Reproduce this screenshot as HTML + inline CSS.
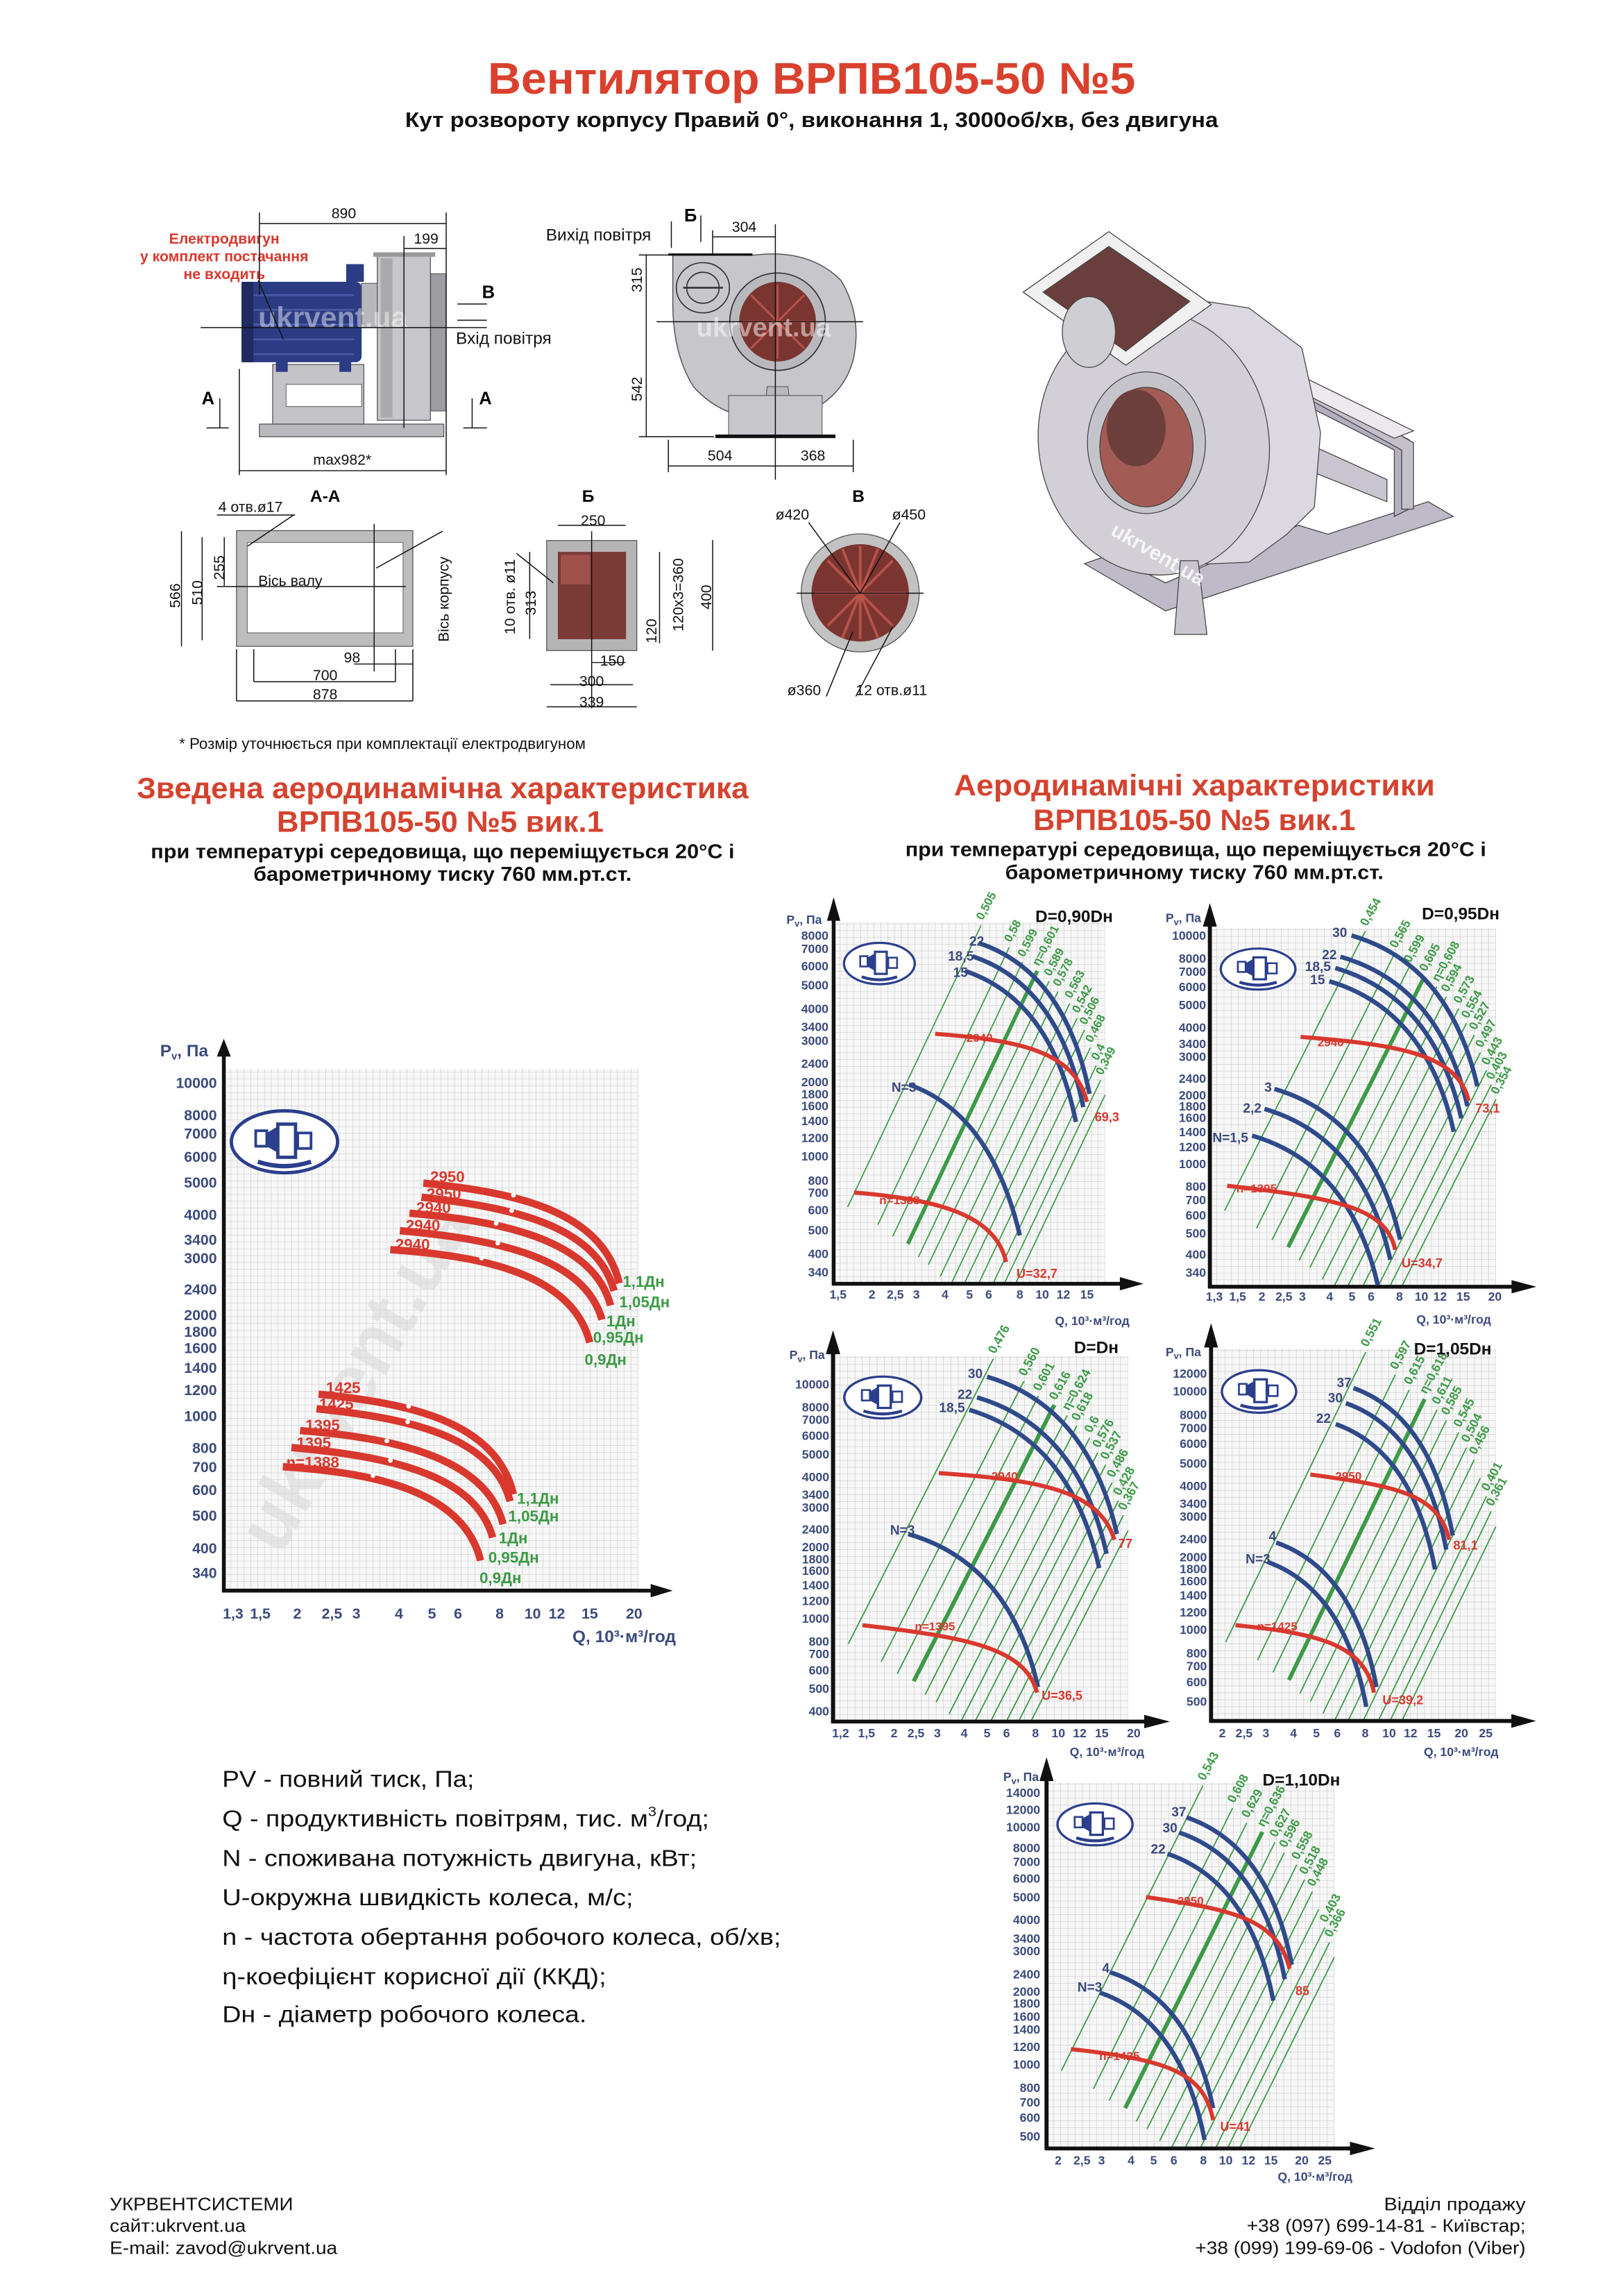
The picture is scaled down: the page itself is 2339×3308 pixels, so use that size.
<!DOCTYPE html>
<html><head><meta charset="utf-8"><style>
html,body{margin:0;padding:0;background:#fff}
svg{display:block}
text{font-family:"Liberation Sans",sans-serif}
.ax{font-size:8.3px;font-weight:bold;fill:#3b4a7d}
.axr{font-size:8.3px;font-weight:bold;fill:#3b4a7d;text-anchor:end}
.axm{font-size:8.3px;font-weight:bold;fill:#3b4a7d;text-anchor:middle}
.bl{font-size:9px;font-weight:bold;fill:#3b4a7d;text-anchor:end}
.rd{font-size:9px;font-weight:bold;fill:#d9382e}
.gr{font-size:8px;font-weight:bold;fill:#3c9a46}
.tt{font-size:11.5px;font-weight:bold;fill:#111}
.dm{font-size:10px;fill:#111}
.bc{fill:none;stroke:#2f4a8a;stroke-width:3}
.rc{fill:none;stroke:#d9382e;stroke-width:2.8}
.gl{stroke:#3c9a46;stroke-width:0.8}
.dl{stroke:#111;stroke-width:0.7;fill:none}
</style></head><body>
<svg width="2339" height="3308" viewBox="0 0 1100 1556" preserveAspectRatio="none" xmlns="http://www.w3.org/2000/svg">
<defs>
<pattern id="grid" patternUnits="userSpaceOnUse" width="4.6" height="4.6">
<rect width="4.6" height="4.6" fill="#f7f7f7"/>
<path d="M4.6 0V4.6M0 4.6H4.6" stroke="#c4c4c4" stroke-width="0.5"/>
</pattern>
<g id="logo">
<ellipse cx="0" cy="0" rx="24" ry="14" fill="#fff" stroke="#2b3f8c" stroke-width="1.5"/>
<rect x="-13" y="-5" width="5" height="7" fill="none" stroke="#2b3f8c" stroke-width="1.2"/>
<polygon points="-8,-4 -3,-7 -3,5 -8,2" fill="#2b3f8c"/>
<rect x="-3" y="-8" width="8" height="15" fill="none" stroke="#2b3f8c" stroke-width="1.5"/>
<rect x="6" y="-4" width="6" height="7" fill="none" stroke="#2b3f8c" stroke-width="1.2"/>
<path d="M-12 9 Q0 13 12 9" stroke="#2b3f8c" stroke-width="2" fill="none"/>
</g>
<g id="tpl">
<rect x="0" y="-245" width="184" height="245" fill="url(#grid)"/>
<g class="gl">
<line x1="9.5" y1="-52" x2="100" y2="-243"/>
<line x1="30" y1="-40" x2="119" y2="-228"/>
<line x1="40" y1="-32" x2="128" y2="-218"/>
<line x1="50.3" y1="-27" x2="138" y2="-212" stroke-width="2.6"/>
<line x1="57.4" y1="-18" x2="146" y2="-205"/>
<line x1="64.3" y1="-13" x2="152" y2="-198"/>
<line x1="72.3" y1="-5" x2="160" y2="-190"/>
<line x1="79.7" y1="0" x2="165" y2="-180"/>
<line x1="88.5" y1="0" x2="170" y2="-172"/>
<line x1="98.2" y1="0" x2="174" y2="-160"/>
<line x1="108" y1="0" x2="178" y2="-148"/>
<line x1="115.6" y1="0" x2="181" y2="-138"/>
<line x1="123.3" y1="0" x2="184" y2="-128"/>
</g>
<use href="#logo" transform="translate(31,-217)"/>
<line x1="0" y1="1" x2="0" y2="-250" stroke="#111" stroke-width="2.6"/>
<polygon points="-4.5,-246 4.5,-246 0,-262" fill="#111"/>
<line x1="-1" y1="0" x2="196" y2="0" stroke="#111" stroke-width="2.6"/>
<polygon points="194,-4.5 194,4.5 210,0" fill="#111"/>
</g>
</defs>

<!-- TITLE -->
<text x="330.6" y="63.5" font-size="30" font-weight="bold" fill="#d9412e" textLength="439" lengthAdjust="spacingAndGlyphs">Вентилятор ВРПВ105-50 №5</text>
<text x="274.6" y="86" font-size="14.5" font-weight="bold" fill="#111" textLength="551" lengthAdjust="spacingAndGlyphs">Кут розвороту корпусу Правий 0°, виконання 1, 3000об/хв, без двигуна</text>

<!-- SIDE VIEW -->
<g>
<rect x="175.8" y="287.4" width="125" height="8.6" fill="#b9b9bd" stroke="#555" stroke-width="0.6"/>
<rect x="184.8" y="247" width="61.8" height="40.4" fill="#c4c4c8" stroke="#555" stroke-width="0.6"/>
<rect x="193.9" y="260.5" width="51.2" height="15" fill="#fff" stroke="#666" stroke-width="0.5"/>
<rect x="163.7" y="191" width="81.4" height="54.5" rx="4" fill="#2c3c84"/>
<g stroke="#4a5aa8" stroke-width="1.2"><line x1="168" y1="200" x2="240" y2="200"/><line x1="168" y1="210" x2="240" y2="210"/><line x1="168" y1="220" x2="240" y2="220"/><line x1="168" y1="230" x2="240" y2="230"/><line x1="168" y1="240" x2="240" y2="240"/></g>
<rect x="163.7" y="191" width="8" height="54.5" fill="#1e2a60"/>
<rect x="234.6" y="179" width="12" height="12" fill="#2c3c84"/>
<rect x="187" y="244" width="8" height="8" fill="#2c3c84"/><rect x="230" y="244" width="8" height="8" fill="#2c3c84"/>
<rect x="245" y="192" width="12" height="30" fill="#b8b8bc" stroke="#555" stroke-width="0.5"/>
<rect x="255.7" y="172.8" width="36" height="112" fill="#c7c7cb" stroke="#555" stroke-width="0.6"/>
<rect x="258" y="175" width="8" height="108" fill="#aaa"/>
<rect x="291.9" y="185.5" width="10.5" height="93" fill="#9c9ca2" stroke="#555" stroke-width="0.5"/>
<rect x="253" y="171" width="42" height="3" fill="#999"/>
<text x="175" y="222" font-size="20" font-weight="bold" fill="#ffffff" fill-opacity="0.45">ukrvent.ua</text>
<text x="152" y="165" font-size="10" font-weight="bold" fill="#d9382e" text-anchor="middle">Електродвигун</text>
<text x="152" y="177" font-size="10" font-weight="bold" fill="#d9382e" text-anchor="middle">у комплект постачання</text>
<text x="152" y="189" font-size="10" font-weight="bold" fill="#d9382e" text-anchor="middle">не входить</text>
<line class="dl" x1="175" y1="190" x2="192" y2="230"/>
<line class="dl" x1="175.8" y1="151.5" x2="302.4" y2="151.5"/><line class="dl" x1="175.8" y1="144" x2="175.8" y2="200"/><line class="dl" x1="302.4" y1="144" x2="302.4" y2="322"/>
<text x="233" y="148" class="dm" text-anchor="middle">890</text>
<line class="dl" x1="273.8" y1="168.4" x2="302.4" y2="168.4"/><line class="dl" x1="273.8" y1="160" x2="273.8" y2="290"/>
<text x="288.8" y="165" class="dm" text-anchor="middle">199</text>
<line class="dl" x1="162.2" y1="319" x2="302.4" y2="319"/><line class="dl" x1="162.2" y1="250" x2="162.2" y2="322"/>
<text x="232" y="315" class="dm" text-anchor="middle">max982*</text>
<line class="dl" x1="136" y1="222" x2="330" y2="222"/>
<text x="141" y="274" font-size="12" font-weight="bold" text-anchor="middle">А</text>
<line class="dl" x1="149" y1="270" x2="149" y2="290"/><line class="dl" x1="140" y1="290" x2="155" y2="290"/>
<text x="329" y="274" font-size="12" font-weight="bold" text-anchor="middle">А</text>
<line class="dl" x1="320" y1="270" x2="320" y2="290"/><line class="dl" x1="314" y1="290" x2="330" y2="290"/>
<text x="331" y="202" font-size="12" font-weight="bold" text-anchor="middle">В</text>
<line class="dl" x1="310" y1="206" x2="330" y2="206"/>
<line class="dl" x1="310" y1="217" x2="330" y2="217"/>
<text x="309" y="233" font-size="11.5" fill="#111">Вхід повітря</text>
</g>

<!-- FRONT VIEW -->
<g>
<path d="M456 173 L510 173 Q548 168 570 190 Q585 215 578 245 Q568 278 527 285 Q490 285 470 262 Q456 240 456 205 Z" fill="#c7c7cb" stroke="#555" stroke-width="0.7"/>
<line x1="453" y1="172.5" x2="510" y2="172.5" stroke="#111" stroke-width="1.5"/>
<ellipse cx="476.4" cy="195" rx="18" ry="17" fill="#c7c7cb" stroke="#333" stroke-width="0.8"/>
<ellipse cx="476.4" cy="195" rx="11" ry="10.5" fill="none" stroke="#333" stroke-width="0.8"/>
<line x1="463" y1="195" x2="490" y2="195" stroke="#333" stroke-width="1.2"/>
<ellipse cx="527" cy="218" rx="32.4" ry="33" fill="#b9b9bd" stroke="#333" stroke-width="0.8"/>
<ellipse cx="527" cy="218" rx="26" ry="27" fill="#7a3530"/>
<g stroke="#b8524a" stroke-width="1.4">
<line x1="527" y1="218" x2="527" y2="193"/><line x1="527" y1="218" x2="545" y2="200"/><line x1="527" y1="218" x2="551" y2="218"/><line x1="527" y1="218" x2="545" y2="236"/><line x1="527" y1="218" x2="527" y2="243"/><line x1="527" y1="218" x2="509" y2="236"/><line x1="527" y1="218" x2="503" y2="218"/><line x1="527" y1="218" x2="509" y2="200"/>
</g>
<polygon points="520,262 534,262 538,296 516,296" fill="#b9b9bd" stroke="#555" stroke-width="0.5"/>
<rect x="493.8" y="268" width="63.4" height="27" fill="#c7c7cb" stroke="#555" stroke-width="0.5"/>
<rect x="484.8" y="294.5" width="81.4" height="2.4" fill="#111"/>
<line class="dl" x1="525.5" y1="152" x2="525.5" y2="325"/>
<line class="dl" x1="445" y1="218" x2="585" y2="218"/>
<line class="dl" x1="483" y1="160.5" x2="525.5" y2="160.5"/><line class="dl" x1="483" y1="156" x2="483" y2="172"/>
<text x="504.4" y="157" class="dm" text-anchor="middle">304</text>
<line class="dl" x1="438" y1="172.8" x2="438" y2="296"/><line class="dl" x1="433" y1="172.8" x2="456" y2="172.8"/><line class="dl" x1="433" y1="296" x2="484" y2="296"/>
<text transform="translate(435,198) rotate(-90)" class="dm">315</text>
<text transform="translate(435,272) rotate(-90)" class="dm">542</text>
<line class="dl" x1="453" y1="315.8" x2="578.3" y2="315.8"/><line class="dl" x1="453" y1="298" x2="453" y2="320"/><line class="dl" x1="578.3" y1="298" x2="578.3" y2="320"/>
<text x="488" y="312" class="dm" text-anchor="middle">504</text>
<text x="551" y="312" class="dm" text-anchor="middle">368</text>
<text x="370" y="163" font-size="11.5" fill="#111">Вихід повітря</text>
<line class="dl" x1="455" y1="150" x2="455" y2="168"/>
<text x="468" y="150" font-size="12" font-weight="bold" text-anchor="middle">Б</text>
<line class="dl" x1="475" y1="146" x2="475" y2="164"/>
<text x="472" y="228" font-size="18" font-weight="bold" fill="#fff" fill-opacity="0.5">ukrvent.ua</text>
</g>

<!-- 3D VIEW -->
<g stroke="#444" stroke-width="0.6">
<polygon points="735,382 790,414 985,350 968,340 900,362 880,356 790,395 752,376" fill="#bfbac8"/>
<polygon points="872,255 955,298 955,345 945,350 945,305 872,268" fill="#b4afbe"/>
<polygon points="890,262 958,300 958,345 950,345 950,305 890,272" fill="#c4c0ca"/>
<polygon points="868,248 958,292 945,297 860,255" fill="#ebe9ee"/>
<polygon points="885,300 940,325 940,340 885,318" fill="#c9c5d0"/>
<polygon points="766,229 812.7,203.6 846.5,208.7 882.3,235.7 895,293 890.8,343.8 871.8,362.4 846.5,381 808.5,382.6" fill="#dcd8e2"/>
<ellipse cx="782" cy="300" rx="78" ry="90" transform="rotate(-10 782 300)" fill="#d2d0d6"/>
<polygon points="693.5,198 751.5,157 821,206.4 763,247.5" fill="#f0f0f0"/>
<polygon points="707,198 751.5,167 806.4,204.3 763,238" fill="#6a3e3c"/>
<ellipse cx="738" cy="225" rx="18" ry="24" fill="#cfcfd3"/>
<ellipse cx="777" cy="300" rx="40" ry="48" fill="#c6c4cb"/>
<ellipse cx="777" cy="303" rx="31.6" ry="40.5" fill="#a35c55"/>
<ellipse cx="770" cy="290" rx="20" ry="26" fill="#6c3f3d" stroke="none"/>
<polygon points="800,380 812,380 818,430 796,430" fill="#c9c6cf"/>
</g>
<text transform="translate(752,362) rotate(30)" font-size="14" font-weight="bold" fill="#fff" fill-opacity="0.8">ukrvent.ua</text>

<!-- SECTIONS -->
<g>
<rect x="160.3" y="359.6" width="119.5" height="78.4" fill="#bdbdbd" stroke="#555" stroke-width="0.6"/>
<rect x="167.6" y="367.6" width="105.6" height="61.3" fill="#fff" stroke="#777" stroke-width="0.6"/>
<line class="dl" x1="147" y1="397.5" x2="275" y2="397.5"/>
<line class="dl" x1="253.6" y1="355" x2="253.6" y2="455"/>
<line class="dl" x1="255" y1="385" x2="300" y2="360"/>
<text x="220.4" y="340" font-size="11.5" font-weight="bold" text-anchor="middle">А-А</text>
<text x="148" y="347" class="dm">4 отв.ø17</text><line class="dl" x1="147" y1="349" x2="200" y2="349"/><line class="dl" x1="199" y1="349" x2="168" y2="370"/>
<line class="dl" x1="123" y1="360" x2="123" y2="438"/><text transform="translate(122,412) rotate(-90)" class="dm">566</text>
<line class="dl" x1="137" y1="364" x2="137" y2="434"/><text transform="translate(137,410) rotate(-90)" class="dm">510</text>
<line class="dl" x1="152" y1="364" x2="152" y2="397"/><text transform="translate(152,393) rotate(-90)" class="dm">255</text>
<text x="175" y="397" class="dm">Вісь валу</text>
<text transform="translate(304,435) rotate(-90)" class="dm">Вісь корпусу</text>
<line class="dl" x1="160.3" y1="440" x2="160.3" y2="475"/><line class="dl" x1="279.8" y1="440" x2="279.8" y2="475"/><line class="dl" x1="172" y1="440" x2="172" y2="462"/><line class="dl" x1="268" y1="440" x2="268" y2="462"/>
<line class="dl" x1="240" y1="450" x2="280" y2="450"/><text x="238.6" y="449" class="dm" text-anchor="middle">98</text>
<line class="dl" x1="172" y1="462" x2="268" y2="462"/><text x="220.4" y="461" class="dm" text-anchor="middle">700</text>
<line class="dl" x1="160.3" y1="475" x2="279.8" y2="475"/><text x="220.4" y="474" class="dm" text-anchor="middle">878</text>

<rect x="370.5" y="366.3" width="61.1" height="74.6" fill="#b5b5b5" stroke="#555" stroke-width="0.6"/>
<rect x="378.1" y="374" width="46.2" height="59.2" fill="#7a3a36"/>
<rect x="380" y="376" width="20" height="20" fill="#a0504a"/>
<line class="dl" x1="401" y1="360" x2="401" y2="480"/>
<text x="398.6" y="340" font-size="11.5" font-weight="bold" text-anchor="middle">Б</text>
<line class="dl" x1="378" y1="356" x2="424" y2="356"/><text x="402" y="356" class="dm" text-anchor="middle">250</text>
<text transform="translate(349,430) rotate(-90)" class="dm">10 отв. ø11</text>
<line class="dl" x1="350" y1="375" x2="375" y2="395"/>
<line class="dl" x1="359" y1="374" x2="359" y2="433"/><text transform="translate(363,417) rotate(-90)" class="dm">313</text>
<line class="dl" x1="447" y1="374" x2="447" y2="436"/><text transform="translate(463,428) rotate(-90)" class="dm">120х3=360</text>
<line class="dl" x1="483" y1="366" x2="483" y2="441"/><text transform="translate(482,413) rotate(-90)" class="dm">400</text>
<text transform="translate(445,436) rotate(-90)" class="dm">120</text>
<line class="dl" x1="401" y1="449" x2="424" y2="449"/><text x="415" y="451" class="dm" text-anchor="middle">150</text>
<line class="dl" x1="373" y1="464" x2="429" y2="464"/><text x="401" y="465" class="dm" text-anchor="middle">300</text>
<line class="dl" x1="370.5" y1="479" x2="431.6" y2="479"/><text x="401" y="479" class="dm" text-anchor="middle">339</text>

<circle cx="583" cy="401.8" r="40" fill="#c2c2c2" stroke="#555" stroke-width="0.6"/>
<circle cx="583" cy="401.8" r="33" fill="#7a3530"/>
<g stroke="#b8524a" stroke-width="1.8"><line x1="583" y1="370" x2="583" y2="433"/><line x1="552" y1="402" x2="614" y2="402"/><line x1="561" y1="380" x2="605" y2="424"/><line x1="605" y1="380" x2="561" y2="424"/><line x1="571" y1="372" x2="595" y2="432"/><line x1="595" y1="372" x2="571" y2="432"/></g>
<line class="dl" x1="540" y1="402" x2="626" y2="402"/>
<text x="581.8" y="340" font-size="11.5" font-weight="bold" text-anchor="middle">В</text>
<text x="537" y="352" class="dm" text-anchor="middle">ø420</text><line class="dl" x1="548" y1="354" x2="583" y2="402"/>
<text x="616" y="352" class="dm" text-anchor="middle">ø450</text><line class="dl" x1="610" y1="354" x2="583" y2="402"/>
<text x="545" y="471" class="dm" text-anchor="middle">ø360</text><line class="dl" x1="560" y1="472" x2="578" y2="428"/>
<text x="580" y="471" class="dm">12 отв.ø11</text><line class="dl" x1="580" y1="472" x2="605" y2="425"/>
<text x="121.4" y="507.5" font-size="10.5" fill="#111">* Розмір уточнюється при комплектації електродвигуном</text>
</g>

<!-- HEADINGS -->
<text x="92.7" y="540.9" font-size="20" font-weight="bold" fill="#d4432f" textLength="414.6" lengthAdjust="spacingAndGlyphs">Зведена аеродинамічна характеристика</text>
<text x="187.6" y="563.7" font-size="20" font-weight="bold" fill="#d4432f" textLength="221.6" lengthAdjust="spacingAndGlyphs">ВРПВ105-50 №5 вик.1</text>
<text x="102.2" y="581.7" font-size="13.5" font-weight="bold" fill="#111" textLength="395.6" lengthAdjust="spacingAndGlyphs">при температурі середовища, що переміщується 20°С і</text>
<text x="171.8" y="597" font-size="13.5" font-weight="bold" fill="#111" textLength="256.3" lengthAdjust="spacingAndGlyphs">барометричному тиску 760 мм.рт.ст.</text>
<text x="646.5" y="539" font-size="20" font-weight="bold" fill="#d4432f" textLength="326" lengthAdjust="spacingAndGlyphs">Аеродинамічні характеристики</text>
<text x="700.3" y="562.6" font-size="20" font-weight="bold" fill="#d4432f" textLength="218.4" lengthAdjust="spacingAndGlyphs">ВРПВ105-50 №5 вик.1</text>
<text x="613.6" y="580.1" font-size="13.5" font-weight="bold" fill="#111" textLength="393.7" lengthAdjust="spacingAndGlyphs">при температурі середовища, що переміщується 20°С і</text>
<text x="681.3" y="595.8" font-size="13.5" font-weight="bold" fill="#111" textLength="256.4" lengthAdjust="spacingAndGlyphs">барометричному тиску 760 мм.рт.ст.</text>

<!-- LEFT CHART -->
<g>
<rect x="152" y="724.5" width="280.6" height="353.5" fill="url(#grid)"/>
<g transform="translate(192.8,773.8) scale(1.5)"><use href="#logo"/></g>
<text transform="translate(190,1055) rotate(-60)" font-size="52" font-weight="bold" fill="#d8d8d8" fill-opacity="0.6">ukrvent.ua</text>
<line x1="151.7" y1="1079" x2="151.7" y2="715" stroke="#111" stroke-width="2.6"/>
<polygon points="147,716 156.4,716 151.7,704" fill="#111"/>
<line x1="150.5" y1="1078" x2="442" y2="1078" stroke="#111" stroke-width="2.6"/>
<polygon points="441,1073.5 441,1082.5 456,1078" fill="#111"/>
<g fill="none" stroke="#d9382e" stroke-width="5">
<path d="M286.9,801.8 C348,808 408,820 419.7,869.7"/>
<path d="M285.7,811.3 C346.8,818.4 404,830 416.2,874.8"/>
<path d="M277.5,822.2 C336,827 402,839 413.8,884.7"/>
<path d="M271,834 C337,840 396,852 408,894.3"/>
<path d="M264.5,846.9 C326,851 388,863 399.7,909.8"/>
<path d="M215.9,944.8 C277,951 336,963 348,1012.7"/>
<path d="M214.5,954.7 C276,961 334,973 345.7,1017.4"/>
<path d="M203.4,969.5 C262,974 329,986 341,1033"/>
<path d="M197.5,981 C264,987 322,999 333.9,1042"/>
<path d="M191.7,994 C253,998 314,1010 325.7,1057.6"/>
</g>
<g fill="#fff"><circle cx="348" cy="810" r="1.6"/><circle cx="346.8" cy="820.4" r="1.6"/><circle cx="336.3" cy="829" r="1.6"/><circle cx="337.4" cy="842.4" r="1.6"/><circle cx="326.4" cy="852.6" r="1.6"/><circle cx="277" cy="953" r="1.6"/><circle cx="276.3" cy="963.5" r="1.6"/><circle cx="262.2" cy="976.5" r="1.6"/><circle cx="264.6" cy="989.7" r="1.6"/><circle cx="252.8" cy="1000" r="1.6"/></g>
<g font-size="10.5" font-weight="bold" fill="#d9382e">
<text x="291.6" y="801">2950</text><text x="289.2" y="812.5">2950</text><text x="282.2" y="822">2940</text><text x="275" y="834">2940</text><text x="268" y="847">2940</text>
<text x="221" y="944">1425</text><text x="216.3" y="955">1425</text><text x="207" y="969.5">1395</text><text x="201" y="981.5">1395</text><text x="194" y="994.5">n=1388</text>
</g>
<g font-size="10.5" font-weight="bold" fill="#3c9a46">
<text x="422" y="872">1,1Дн</text><text x="419.7" y="886">1,05Дн</text><text x="411" y="899">1Дн</text><text x="402" y="910">0,95Дн</text><text x="396.2" y="925">0,9Дн</text>
<text x="350.4" y="1019">1,1Дн</text><text x="344.5" y="1031">1,05Дн</text><text x="338" y="1046">1Дн</text><text x="331" y="1059">0,95Дн</text><text x="325" y="1073">0,9Дн</text>
</g>
<g font-size="10" font-weight="bold" fill="#3b4a7d" text-anchor="end">
<text x="147" y="737.3">10000</text><text x="147" y="759.3">8000</text><text x="147" y="771.7">7000</text><text x="147" y="787.3">6000</text><text x="147" y="804.7">5000</text><text x="147" y="826.7">4000</text><text x="147" y="843.6">3400</text><text x="147" y="856">3000</text><text x="147" y="877.3">2400</text><text x="147" y="894.7">2000</text><text x="147" y="906">1800</text><text x="147" y="916.9">1600</text><text x="147" y="930.4">1400</text><text x="147" y="945.4">1200</text><text x="147" y="963">1000</text><text x="147" y="984.7">800</text><text x="147" y="997.7">700</text><text x="147" y="1013.3">600</text><text x="147" y="1030.7">500</text><text x="147" y="1052.7">400</text><text x="147" y="1069.3">340</text>
</g>
<g font-size="10" font-weight="bold" fill="#3b4a7d" text-anchor="middle">
<text x="158" y="1097">1,3</text><text x="176.4" y="1097">1,5</text><text x="201.5" y="1097">2</text><text x="225" y="1097">2,5</text><text x="241.5" y="1097">3</text><text x="270.4" y="1097">4</text><text x="292.8" y="1097">5</text><text x="310.4" y="1097">6</text><text x="338.6" y="1097">8</text><text x="361" y="1097">10</text><text x="377.4" y="1097">12</text><text x="399.7" y="1097">15</text><text x="429.8" y="1097">20</text>
</g>
<text x="388" y="1113" font-size="11.5" font-weight="bold" fill="#3b4a7d">Q, 10³·м³/год</text>
<text x="108.5" y="716" font-size="11.5" font-weight="bold" fill="#3b4a7d">P<tspan font-size="7" dy="2">v</tspan><tspan dy="-2">, Па</tspan></text>
</g>

<!-- CHART 1 -->
<g transform="translate(565,870)"><use href="#tpl"/>
<g class="gr"><text transform="translate(101,-246) rotate(-62)">0,505</text><text transform="translate(120,-231) rotate(-62)">0,58</text><text transform="translate(129,-221) rotate(-62)">0,599</text><text transform="translate(139,-215) rotate(-62)">η=0,601</text><text transform="translate(147,-208) rotate(-62)">0,589</text><text transform="translate(153,-201) rotate(-62)">0,578</text><text transform="translate(161,-193) rotate(-62)">0,563</text><text transform="translate(166,-183) rotate(-62)">0,542</text><text transform="translate(171,-175) rotate(-62)">0,506</text><text transform="translate(175,-163) rotate(-62)">0,468</text><text transform="translate(179,-151) rotate(-62)">0,4</text><text transform="translate(182,-141) rotate(-62)">0,349</text></g>
</g>
<path class="bc" d="M663.3,639.1 Q722,658.6 738.4,741.3"/><path class="bc" d="M659.1,648.1 Q717.5,667.5 734.2,750.3"/><path class="bc" d="M654,658 Q712.5,677.5 729.2,760.3"/><path class="bc" d="M616,735 Q671.4,754.3 691.2,837.2"/>
<path class="rc" d="M633.8,700.6 C690,705 728,712 736.7,746.7"/><path class="rc" d="M578.9,808.2 C640,813 675,825 681.9,855.3"/>
<g class="axr"><text x="561.5" y="636.8">8000</text><text x="561.5" y="645.9">7000</text><text x="561.5" y="657.5">6000</text><text x="561.5" y="670.5">5000</text><text x="561.5" y="686.4">4000</text><text x="561.5" y="698.7">3400</text><text x="561.5" y="708.1">3000</text><text x="561.5" y="723.7">2400</text><text x="561.5" y="736.2">2000</text><text x="561.5" y="744.3">1800</text><text x="561.5" y="752.4">1600</text><text x="561.5" y="762.4">1400</text><text x="561.5" y="774.1">1200</text><text x="561.5" y="786.4">1000</text><text x="561.5" y="803">800</text><text x="561.5" y="811.2">700</text><text x="561.5" y="823">600</text><text x="561.5" y="836.5">500</text><text x="561.5" y="852.5">400</text><text x="561.5" y="865">340</text></g>
<g class="axm"><text x="568" y="880">1,5</text><text x="591" y="880">2</text><text x="606.8" y="880">2,5</text><text x="621.1" y="880">3</text><text x="640.5" y="880">4</text><text x="657.1" y="880">5</text><text x="670.1" y="880">6</text><text x="691.2" y="880">8</text><text x="706.4" y="880">10</text><text x="720.7" y="880">12</text><text x="736.7" y="880">15</text></g>
<text x="715" y="898" class="ax">Q, 10³·м³/год</text>
<text x="533" y="626" class="ax">P<tspan font-size="6" dy="2">v</tspan><tspan dy="-2">, Па</tspan></text>
<text x="728" y="625" class="tt" text-anchor="middle">D=0,90Dн</text>
<g class="bl"><text x="667" y="641">22</text><text x="660" y="651">18,5</text><text x="656" y="662">15</text><text x="621" y="740">N=3</text></g>
<g class="rd"><text x="655" y="706" font-size="8">2940</text><text x="596" y="816" font-size="8">n=1388</text><text x="689" y="866" font-size="8.5">U=32,7</text><text x="742" y="760" font-size="8.5">69,3</text></g>

<!-- CHART 2 -->
<g transform="translate(820,872) scale(1.054,0.992)"><use href="#tpl"/>
<g class="gr"><text transform="translate(101,-246) rotate(-62)">0,454</text><text transform="translate(120,-231) rotate(-62)">0,565</text><text transform="translate(129,-221) rotate(-62)">0,599</text><text transform="translate(139,-215) rotate(-62)">0,605</text><text transform="translate(147,-208) rotate(-62)">η=0,608</text><text transform="translate(153,-201) rotate(-62)">0,594</text><text transform="translate(161,-193) rotate(-62)">0,573</text><text transform="translate(166,-183) rotate(-62)">0,554</text><text transform="translate(171,-175) rotate(-62)">0,527</text><text transform="translate(175,-163) rotate(-62)">0,497</text><text transform="translate(179,-151) rotate(-62)">0,443</text><text transform="translate(182,-141) rotate(-62)">0,403</text><text transform="translate(185,-131) rotate(-62)">0,354</text></g>
</g>
<path class="bc" d="M916,634 Q982.5,653.4 1001.3,736.2"/><path class="bc" d="M908.5,648.4 Q975.7,667.6 994.6,749.7"/><path class="bc" d="M905,656 Q971.6,675.4 990.4,757.9"/><path class="bc" d="M901,665 Q966.8,684.4 985.3,766.9"/>
<path class="bc" d="M863.8,738 Q930.3,757.4 949,840.2"/><path class="bc" d="M857,751.5 Q923.5,770.9 942.3,853.7"/><path class="bc" d="M848.6,769.6 Q915,788.8 933.8,870.9"/>
<path class="rc" d="M881.5,702.7 C950,708 988,715 995.4,746"/><path class="rc" d="M831.7,803.6 C910,812 940,820 945.6,847"/>
<g class="axr"><text x="817.4" y="636.9">10000</text><text x="817.4" y="652.3">8000</text><text x="817.4" y="661.4">7000</text><text x="817.4" y="671.7">6000</text><text x="817.4" y="684">5000</text><text x="817.4" y="699.3">4000</text><text x="817.4" y="710.2">3400</text><text x="817.4" y="718.9">3000</text><text x="817.4" y="733.7">2400</text><text x="817.4" y="745.1">2000</text><text x="817.4" y="752.7">1800</text><text x="817.4" y="760.3">1600</text><text x="817.4" y="769.9">1400</text><text x="817.4" y="780.2">1200</text><text x="817.4" y="791.6">1000</text><text x="817.4" y="807">800</text><text x="817.4" y="816">700</text><text x="817.4" y="826.5">600</text><text x="817.4" y="838.6">500</text><text x="817.4" y="853.1">400</text><text x="817.4" y="865.2">340</text></g>
<g class="axm"><text x="823" y="881.5">1,3</text><text x="838.8" y="881.5">1,5</text><text x="855.3" y="881.5">2</text><text x="870.2" y="881.5">2,5</text><text x="882.7" y="881.5">3</text><text x="901.2" y="881.5">4</text><text x="916.4" y="881.5">5</text><text x="929.3" y="881.5">6</text><text x="948.5" y="881.5">8</text><text x="963.4" y="881.5">10</text><text x="976" y="881.5">12</text><text x="991.7" y="881.5">15</text><text x="1013.2" y="881.5">20</text></g>
<text x="960" y="897" class="ax">Q, 10³·м³/год</text>
<text x="790" y="625" class="ax">P<tspan font-size="6" dy="2">v</tspan><tspan dy="-2">, Па</tspan></text>
<text x="990" y="623" class="tt" text-anchor="middle">D=0,95Dн</text>
<g class="bl"><text x="913" y="635">30</text><text x="906" y="650">22</text><text x="902" y="658">18,5</text><text x="898" y="667">15</text><text x="862" y="740">3</text><text x="855" y="754">2,2</text><text x="846" y="774">N=1,5</text></g>
<g class="rd"><text x="893" y="709" font-size="8">2940</text><text x="838" y="808" font-size="8">n=1395</text><text x="950" y="859" font-size="8.5">U=34,7</text><text x="1000" y="754" font-size="8.5">73,1</text></g>

<!-- CHART 3 -->
<g transform="translate(564.6,1166.7) scale(1.087,1.012)"><use href="#tpl"/>
<g class="gr"><text transform="translate(101,-246) rotate(-62)">0,476</text><text transform="translate(120,-231) rotate(-62)">0,560</text><text transform="translate(129,-221) rotate(-62)">0,601</text><text transform="translate(139,-215) rotate(-62)">0,616</text><text transform="translate(147,-208) rotate(-62)">η=0,624</text><text transform="translate(153,-201) rotate(-62)">0,618</text><text transform="translate(161,-193) rotate(-62)">0,6</text><text transform="translate(166,-183) rotate(-62)">0,576</text><text transform="translate(171,-175) rotate(-62)">0,537</text><text transform="translate(175,-163) rotate(-62)">0,486</text><text transform="translate(179,-151) rotate(-62)">0,428</text><text transform="translate(182,-141) rotate(-62)">0,367</text></g>
</g>
<path class="bc" d="M669,933 Q737.6,953.3 757,1039.6"/><path class="bc" d="M662.2,947 Q730.7,967.1 750,1053"/><path class="bc" d="M657,955.5 Q725.6,975.9 745,1062.7"/><path class="bc" d="M615.6,1039.6 Q684.2,1059.3 703.5,1143.3"/>
<path class="rc" d="M636.3,998.3 C705,1003 745,1010 755.3,1043.5"/><path class="rc" d="M584.6,1101.4 C660,1110 695,1118 702.9,1147.1"/>
<g class="axr"><text x="562" y="940.9">10000</text><text x="562" y="956.6">8000</text><text x="562" y="964.9">7000</text><text x="562" y="975.8">6000</text><text x="562" y="988.5">5000</text><text x="562" y="1003.8">4000</text><text x="562" y="1015.7">3400</text><text x="562" y="1024.4">3000</text><text x="562" y="1039.2">2400</text><text x="562" y="1051.3">2000</text><text x="562" y="1059.5">1800</text><text x="562" y="1067.2">1600</text><text x="562" y="1077.2">1400</text><text x="562" y="1087.7">1200</text><text x="562" y="1099.8">1000</text><text x="562" y="1115.2">800</text><text x="562" y="1123.8">700</text><text x="562" y="1134.8">600</text><text x="562" y="1147.3">500</text><text x="562" y="1162.6">400</text></g>
<g class="axm"><text x="569.7" y="1177.4">1,2</text><text x="587.3" y="1177.4">1,5</text><text x="606" y="1177.4">2</text><text x="620.8" y="1177.4">2,5</text><text x="635.3" y="1177.4">3</text><text x="653.5" y="1177.4">4</text><text x="669" y="1177.4">5</text><text x="682.2" y="1177.4">6</text><text x="701.8" y="1177.4">8</text><text x="717.3" y="1177.4">10</text><text x="731.8" y="1177.4">12</text><text x="746.7" y="1177.4">15</text><text x="768.4" y="1177.4">20</text></g>
<text x="725" y="1190" class="ax">Q, 10³·м³/год</text>
<text x="535" y="921" class="ax">P<tspan font-size="6" dy="2">v</tspan><tspan dy="-2">, Па</tspan></text>
<text x="743" y="917" class="tt" text-anchor="middle">D=Dн</text>
<g class="bl"><text x="666" y="934">30</text><text x="659" y="948">22</text><text x="654" y="957">18,5</text><text x="620" y="1040">N=3</text></g>
<g class="rd"><text x="672" y="1003" font-size="8">2940</text><text x="620" y="1105" font-size="8">n=1395</text><text x="706" y="1152" font-size="8.5">U=36,5</text><text x="758" y="1049" font-size="8.5">77</text></g>

<!-- CHART 4 -->
<g transform="translate(820.8,1166.3) scale(1.049,1.029)"><use href="#tpl"/>
<g class="gr"><text transform="translate(101,-246) rotate(-62)">0,551</text><text transform="translate(120,-231) rotate(-62)">0,597</text><text transform="translate(129,-221) rotate(-62)">0,615</text><text transform="translate(139,-215) rotate(-62)">η=0,618</text><text transform="translate(147,-208) rotate(-62)">0,611</text><text transform="translate(153,-201) rotate(-62)">0,585</text><text transform="translate(161,-193) rotate(-62)">0,545</text><text transform="translate(166,-183) rotate(-62)">0,504</text><text transform="translate(171,-175) rotate(-62)">0,456</text><text transform="translate(179,-151) rotate(-62)">0,401</text><text transform="translate(182,-141) rotate(-62)">0,361</text></g>
</g>
<path class="bc" d="M917.4,940.7 Q969.8,959.7 984.6,1040.6"/><path class="bc" d="M912.2,950.9 Q965.2,969.8 980.2,1050.2"/><path class="bc" d="M905.3,965.1 Q957.8,983.8 972.6,1063.6"/><path class="bc" d="M865,1045.4 Q918,1064 932.9,1143.3"/><path class="bc" d="M858.8,1058.4 Q911.2,1077.1 926,1156.7"/>
<path class="rc" d="M888.1,999.3 C945,1007 975,1012 982.2,1043.5"/><path class="rc" d="M837.4,1101.4 C895,1107 925,1115 931.2,1147.1"/>
<g class="axr"><text x="818" y="933.6">12000</text><text x="818" y="945.7">10000</text><text x="818" y="961.6">8000</text><text x="818" y="970.6">7000</text><text x="818" y="981.2">6000</text><text x="818" y="994.6">5000</text><text x="818" y="1010">4000</text><text x="818" y="1021.9">3400</text><text x="818" y="1030.5">3000</text><text x="818" y="1046">2400</text><text x="818" y="1058">2000</text><text x="818" y="1066">1800</text><text x="818" y="1074.3">1600</text><text x="818" y="1083.9">1400</text><text x="818" y="1095.4">1200</text><text x="818" y="1107.3">1000</text><text x="818" y="1123.3">800</text><text x="818" y="1131.9">700</text><text x="818" y="1142.8">600</text><text x="818" y="1155.9">500</text></g>
<g class="axm"><text x="828.4" y="1177.4">2</text><text x="843.2" y="1177.4">2,5</text><text x="858" y="1177.4">3</text><text x="876.7" y="1177.4">4</text><text x="892.2" y="1177.4">5</text><text x="906.4" y="1177.4">6</text><text x="925.3" y="1177.4">8</text><text x="941.5" y="1177.4">10</text><text x="956" y="1177.4">12</text><text x="971.9" y="1177.4">15</text><text x="990.5" y="1177.4">20</text><text x="1007" y="1177.4">25</text></g>
<text x="965" y="1190" class="ax">Q, 10³·м³/год</text>
<text x="790" y="919" class="ax">P<tspan font-size="6" dy="2">v</tspan><tspan dy="-2">, Па</tspan></text>
<text x="984.6" y="918" class="tt" text-anchor="middle">D=1,05Dн</text>
<g class="bl"><text x="916" y="940">37</text><text x="910" y="950.5">30</text><text x="902" y="964.3">22</text><text x="865" y="1044">4</text><text x="861" y="1059.5">N=3</text></g>
<g class="rd"><text x="905" y="1003" font-size="8">2950</text><text x="852" y="1105" font-size="8">n=1425</text><text x="937" y="1155" font-size="8.5">U=39,2</text><text x="985" y="1050" font-size="8.5">81,1</text></g>

<!-- CHART 5 -->
<g transform="translate(709.3,1456) scale(1.06,1.012)"><use href="#tpl"/>
<g class="gr"><text transform="translate(101,-246) rotate(-62)">0,543</text><text transform="translate(120,-231) rotate(-62)">0,608</text><text transform="translate(129,-221) rotate(-62)">0,629</text><text transform="translate(139,-215) rotate(-62)">η=0,636</text><text transform="translate(147,-208) rotate(-62)">0,627</text><text transform="translate(153,-201) rotate(-62)">0,596</text><text transform="translate(161,-193) rotate(-62)">0,558</text><text transform="translate(166,-183) rotate(-62)">0,518</text><text transform="translate(171,-175) rotate(-62)">0,448</text><text transform="translate(179,-151) rotate(-62)">0,403</text><text transform="translate(182,-141) rotate(-62)">0,366</text></g>
</g>
<path class="bc" d="M804.2,1231.6 Q859.8,1250.6 875.5,1331.5"/><path class="bc" d="M799.2,1241.9 Q855.1,1260.8 870.8,1341.4"/><path class="bc" d="M791.3,1256.3 Q847.2,1275.2 863,1355.8"/><path class="bc" d="M752.1,1336.5 Q806.8,1354 822.2,1428.7"/><path class="bc" d="M745.4,1350.4 Q800.8,1369.4 816.4,1450.3"/>
<path class="rc" d="M776.7,1285.6 C834,1294 866,1300 874,1334.2"/><path class="rc" d="M725.8,1388.7 C793,1396 816,1405 822.2,1436.8"/>
<g class="axr"><text x="705" y="1217.8">14000</text><text x="705" y="1229.4">12000</text><text x="705" y="1241">10000</text><text x="705" y="1255.3">8000</text><text x="705" y="1264.7">7000</text><text x="705" y="1276">6000</text><text x="705" y="1288.6">5000</text><text x="705" y="1303.9">4000</text><text x="705" y="1316.5">3400</text><text x="705" y="1325.1">3000</text><text x="705" y="1340.8">2400</text><text x="705" y="1352.5">2000</text><text x="705" y="1360.6">1800</text><text x="705" y="1369.6">1600</text><text x="705" y="1378.2">1400</text><text x="705" y="1389.9">1200</text><text x="705" y="1402">1000</text><text x="705" y="1417.7">800</text><text x="705" y="1427.7">700</text><text x="705" y="1438">600</text><text x="705" y="1450.6">500</text></g>
<g class="axm"><text x="717.2" y="1466.8">2</text><text x="733.3" y="1466.8">2,5</text><text x="746.6" y="1466.8">3</text><text x="766.6" y="1466.8">4</text><text x="781.9" y="1466.8">5</text><text x="795.6" y="1466.8">6</text><text x="815.6" y="1466.8">8</text><text x="830.8" y="1466.8">10</text><text x="846.2" y="1466.8">12</text><text x="861.4" y="1466.8">15</text><text x="882.3" y="1466.8">20</text><text x="897.9" y="1466.8">25</text></g>
<text x="866" y="1478" class="ax">Q, 10³·м³/год</text>
<text x="680" y="1207" class="ax">P<tspan font-size="6" dy="2">v</tspan><tspan dy="-2">, Па</tspan></text>
<text x="882" y="1210" class="tt" text-anchor="middle">D=1,10Dн</text>
<g class="bl"><text x="804" y="1231">37</text><text x="798" y="1241.8">30</text><text x="790" y="1256.2">22</text><text x="752" y="1336.7">4</text><text x="747" y="1349.8">N=3</text></g>
<g class="rd"><text x="798" y="1291" font-size="8">2950</text><text x="745" y="1396" font-size="8">n=1425</text><text x="827" y="1444" font-size="8.5">U=41</text><text x="878" y="1352" font-size="8.5">85</text></g>

<!-- LEGEND -->
<g font-size="15.5" fill="#111">
<text x="150.6" y="1211" textLength="170.8" lengthAdjust="spacingAndGlyphs">PV - повний тиск, Па;</text>
<text x="150.6" y="1237.7" textLength="330" lengthAdjust="spacingAndGlyphs">Q - продуктивність повітрям, тис. м<tspan font-size="9" dy="-7">3</tspan><tspan dy="7">/год;</tspan></text>
<text x="150.6" y="1264.5" textLength="321.7" lengthAdjust="spacingAndGlyphs">N - споживана потужність двигуна, кВт;</text>
<text x="150.6" y="1291.3" textLength="278.6" lengthAdjust="spacingAndGlyphs">U-окружна швидкість колеса, м/с;</text>
<text x="150.6" y="1318" textLength="378.7" lengthAdjust="spacingAndGlyphs">n - частота обертання робочого колеса, об/хв;</text>
<text x="150.6" y="1344.8" textLength="260.3" lengthAdjust="spacingAndGlyphs">η-коефіцієнт корисної дії (ККД);</text>
<text x="150.6" y="1370.5" textLength="247" lengthAdjust="spacingAndGlyphs">Dн - діаметр робочого колеса.</text>
</g>

<!-- FOOTER -->
<g font-size="12" fill="#111">
<text x="74.4" y="1498" textLength="124.3" lengthAdjust="spacingAndGlyphs">УКРВЕНТСИСТЕМИ</text>
<text x="74.4" y="1512.5" textLength="92.2" lengthAdjust="spacingAndGlyphs">сайт:ukrvent.ua</text>
<text x="74.4" y="1527.5" textLength="154.2" lengthAdjust="spacingAndGlyphs">E-mail: zavod@ukrvent.ua</text>
<text x="938" y="1498" textLength="96" lengthAdjust="spacingAndGlyphs">Відділ продажу</text>
<text x="845" y="1512.5" textLength="189" lengthAdjust="spacingAndGlyphs">+38 (097) 699-14-81 - Київстар;</text>
<text x="810" y="1527.5" textLength="224" lengthAdjust="spacingAndGlyphs">+38 (099) 199-69-06 - Vodofon (Viber)</text>
</g>
</svg>
</body></html>
